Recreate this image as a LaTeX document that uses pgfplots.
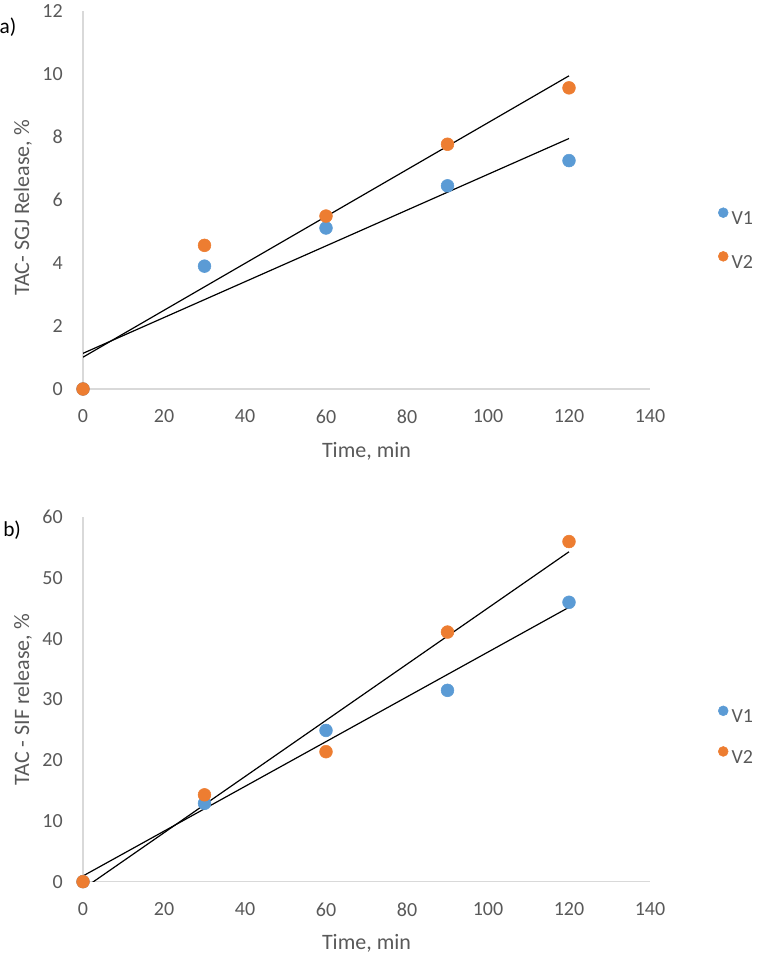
\documentclass[border=0pt]{standalone}
\usepackage{fontspec}
\setmainfont{Carlito}
\usepackage{pgfplots}
\usepackage{pgfplotstable}
\pgfplotsset{compat=1.18}
\definecolor{xlblue}{HTML}{5B9BD5}
\definecolor{xlorange}{HTML}{ED7D31}
\definecolor{axgray}{HTML}{D9D9D9}
\definecolor{txtgray}{HTML}{595959}

\pgfplotstableread{
x v1 v2
0 0 0
30 3.90 4.56
60 5.11 5.49
90 6.45 7.77
120 7.25 9.56
}\dataA
\pgfplotstableread{
x v1 v2
0 0 0
30 12.9 14.3
60 24.9 21.4
90 31.5 41.1
120 46.0 56.0
}\dataB

\pgfplotsset{
  xlstyle/.style={
    scale only axis,
    width=425.25pt,
    axis lines=left,
    axis line style={-, draw=axgray, line width=1pt},
    major tick length=0pt,
    xmin=0, xmax=140, xtick={0,20,...,140},
    ymin=0,
    tick label style={font=\fontsize{15}{18}\selectfont, text=txtgray, inner sep=0pt},
    /pgf/number format/assume math mode=true,
    xticklabel shift=15.5pt,
    yticklabel shift=15pt,
    label style={font=\fontsize{16.5}{20}\selectfont, text=txtgray},
    legend style={draw=none, fill=none, font=\fontsize{15}{18}\selectfont, text=txtgray,
      inner sep=0pt, nodes={inner sep=0pt}, column sep=2.5pt, anchor=west},
    legend cell align=left,
    legend image code/.code={\draw[##1, mark size=3.7pt] plot coordinates {(3.7pt,4.7pt)};},
  }
}

\begin{document}
\begin{tikzpicture}
\path[use as bounding box] (0,0) rectangle (568.5pt,717.75pt);

\begin{axis}[xlstyle,
  at={(62.25pt,426pt)}, anchor=south west,
  height=283.5pt,
  ymax=12, ytick={0,2,...,12},
  xlabel={Time, min},
  ylabel={TAC- SGJ Release, \%},
  xlabel style={at={(axis description cs:0.5,-0.164)}, anchor=center},
  ylabel style={at={(axis description cs:-0.1058,0.479)}, anchor=center},
  legend style={at={(axis description cs:1.12,0.397)}, row sep=18.8pt},
]
\addplot[only marks, mark=*, mark size=4.8pt, draw=xlblue, fill=xlblue] table[x=x,y=v1] {\dataA};
\addlegendentry{V1}
\addplot[only marks, mark=*, mark size=4.8pt, draw=xlorange, fill=xlorange] table[x=x,y=v2] {\dataA};
\addlegendentry{V2}
\addplot[black, line width=0.9pt, forget plot] table[x=x, y={create col/linear regression={y=v1}}] {\dataA};
\addplot[black, line width=0.9pt, forget plot] table[x=x, y={create col/linear regression={y=v2}}] {\dataA};
\end{axis}

\begin{axis}[xlstyle,
  at={(62.25pt,56.5pt)}, anchor=south west,
  height=273.3pt,
  ymax=60, ytick={0,10,...,60},
  xlabel={Time, min},
  ylabel={TAC - SIF release, \%},
  xlabel style={at={(axis description cs:0.5,-0.168)}, anchor=center},
  ylabel style={at={(axis description cs:-0.1058,0.499)}, anchor=center},
  legend style={at={(axis description cs:1.12,0.401)}, row sep=16.5pt},
]
\addplot[only marks, mark=*, mark size=4.8pt, draw=xlblue, fill=xlblue] table[x=x,y=v1] {\dataB};
\addlegendentry{V1}
\addplot[only marks, mark=*, mark size=4.8pt, draw=xlorange, fill=xlorange] table[x=x,y=v2] {\dataB};
\addlegendentry{V2}
\addplot[black, line width=0.9pt, forget plot] table[x=x, y={create col/linear regression={y=v1}}] {\dataB};
\addplot[black, line width=0.9pt, forget plot] table[x=x, y={create col/linear regression={y=v2}}] {\dataB};
\end{axis}

\node[anchor=west, font=\fontsize{16}{19}\selectfont, inner sep=0pt] at (-0.5pt,697.5pt) {a)};
\node[anchor=west, font=\fontsize{16}{19}\selectfont, inner sep=0pt] at (2.25pt,320.25pt) {b)};
\end{tikzpicture}
\end{document}
